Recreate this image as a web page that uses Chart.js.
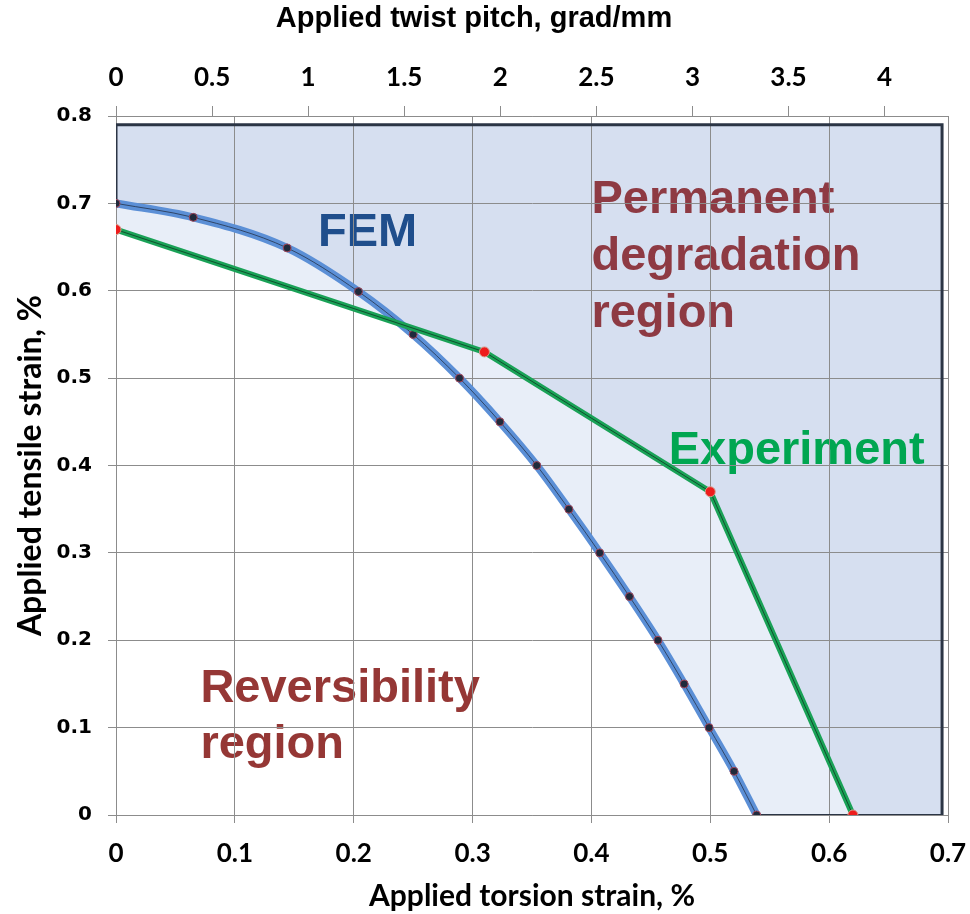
<!DOCTYPE html>
<html>
<head>
<meta charset="utf-8">
<script src="https://cdn.jsdelivr.net/npm/chart.js@4.4.0/dist/chart.umd.min.js"></script>
<style>
  body { margin: 0; background: #fff; }
  #wrap { width: 970px; height: 914px; }
</style>
</head>
<body>
<div id="wrap"><canvas id="strainChart"></canvas></div>
<script>
// FEM limit curve (torsion strain %, tensile strain %)
var femX = [0, 0.065, 0.144, 0.204, 0.250, 0.289, 0.323, 0.354, 0.381, 0.407, 0.432, 0.456, 0.478, 0.499, 0.520, 0.539];
var femY = [0.70, 0.684, 0.649, 0.599, 0.55, 0.50, 0.45, 0.40, 0.35, 0.30, 0.25, 0.20, 0.15, 0.10, 0.05, 0];

// Experiment limit
var expX = [0, 0.31, 0.50, 0.62];
var expY = [0.67, 0.53, 0.37, 0];

// outline of the degradation region
var frameX = [0, 0, 0.695, 0.695];
var frameY = [0.70, 0.79, 0.79, 0];
var edgeX = [0.539, 0.695];
var edgeY = [0, 0];

// region notes
var noteText = ['FEM', 'Permanent', 'degradation', 'region', 'Experiment', 'Reversibility', 'region'];
var noteKind = ['fem', 'perm', 'perm', 'perm', 'exp', 'rev', 'rev'];
var noteX = [0.170, 0.400, 0.400, 0.400, 0.465, 0.071, 0.071];
var noteY = [0.651, 0.689, 0.624, 0.5585, 0.4017, 0.129, 0.065];

function pts(xs, ys) {
  return xs.map(function (x, i) { return {x: x, y: ys[i]}; });
}

var dark = '#d6dff0';
var light = '#e8eef8';
var none = 'rgba(0,0,0,0)';
var gridCol = '#8c8c8c';

var noteColors = {fem: '#1f4e8c', perm: '#8e3a43', exp: '#00a651', rev: '#953735'};

var regionNotes = {
  id: 'regionNotes',
  beforeDraw: function (chart) {
    var ctx = chart.ctx, xs = chart.scales.x, ys = chart.scales.y;
    ctx.save();
    ctx.font = 'bold 47px "Liberation Sans", Arial, sans-serif';
    ctx.textAlign = 'left';
    ctx.textBaseline = 'alphabetic';
    for (var i = 0; i < noteText.length; i++) {
      ctx.fillStyle = noteColors[noteKind[i]];
      ctx.fillText(noteText[i], xs.getPixelForValue(noteX[i]), ys.getPixelForValue(noteY[i]));
    }
    ctx.restore();
  }
};

var ctx = document.getElementById('strainChart').getContext('2d');
var strainChart = new Chart(ctx, {
  type: 'line',
  data: {
    datasets: [
      { // 0 frame, dark fill
        data: pts(frameX, frameY), borderColor: '#2b3545', borderWidth: 3,
        backgroundColor: dark, fill: 'origin', pointRadius: 0, order: 10
      },
      { // 1 below experiment, light
        data: pts(expX, expY), borderColor: none, borderWidth: 1,
        backgroundColor: light, fill: 'origin', pointRadius: 0, order: 9
      },
      { // 2 below FEM, white
        data: pts(femX, femY), cubicInterpolationMode: 'monotone', borderColor: none, borderWidth: 1,
        backgroundColor: '#ffffff', fill: 'origin', pointRadius: 0, order: 8
      },
      { // 3 between FEM and experiment
        data: pts(femX, femY), cubicInterpolationMode: 'monotone', borderColor: none, borderWidth: 1,
        backgroundColor: light, fill: 1, pointRadius: 0, order: 7
      },
      { // 4 bottom edge of frame
        data: pts(edgeX, edgeY), borderColor: '#2b3545', borderWidth: 2,
        fill: false, pointRadius: 0, order: 6
      },
      { // 5 FEM thick
        label: 'FEM', data: pts(femX, femY), cubicInterpolationMode: 'monotone',
        borderColor: '#5b8fd6', borderWidth: 8, fill: false, pointRadius: 0, order: 3
      },
      { // 6 FEM thin + points
        data: pts(femX, femY), cubicInterpolationMode: 'monotone',
        borderColor: '#24324a', borderWidth: 0.8, fill: false,
        pointRadius: 4, pointBackgroundColor: '#1f2a3c', pointBorderColor: '#a3475a', pointBorderWidth: 1, order: 2
      },
      { // 7 Experiment thick
        label: 'Experiment', data: pts(expX, expY),
        borderColor: '#1aa257', borderWidth: 6, fill: false, pointRadius: 0, order: 1
      },
      { // 8 Experiment thin + points
        data: pts(expX, expY), borderColor: '#0d3a22', borderWidth: 0.8, fill: false,
        pointRadius: 5, pointBackgroundColor: '#ee1c1c', pointBorderColor: '#d89a8a', pointBorderWidth: 1, order: 0
      }
    ]
  },
  options: {
    responsive: true,
    maintainAspectRatio: false,
    animation: false,
    layout: { padding: { right: 22 } },
    plugins: {
      legend: { display: false },
      tooltip: { enabled: false },
      filler: { drawTime: 'beforeDraw' },
      title: {
        display: true,
        text: 'Applied twist pitch, grad/mm',
        color: '#000',
        font: { family: '"Liberation Sans", Arial, sans-serif', weight: 'bold', size: 29 },
        padding: { top: 2, bottom: 0 }
      }
    },
    scales: {
      x: {
        type: 'linear', position: 'bottom', min: 0, max: 0.7,
        ticks: { stepSize: 0.1, color: '#000', padding: 15, font: { family: 'Lato', weight: 'bold', size: 26 } },
        grid: { color: gridCol, tickLength: 8 },
        border: { color: gridCol },
        title: {
          display: true, text: 'Applied torsion strain, %', color: '#000',
          font: { family: 'Lato', weight: 'bold', size: 30 }, padding: { top: 0, bottom: 0 }
        },
        afterFit: function (s) { s.height = 99; s.paddingRight = 0; s.paddingLeft = 0; }
      },
      x2: {
        type: 'linear', position: 'top', min: 0, max: 4.33,
        ticks: {
          stepSize: 0.5, includeBounds: false, color: '#000', padding: 13,
          font: { family: 'Lato', weight: 'bold', size: 26 },
          callback: function (v) { return String(Math.round(v * 10) / 10); }
        },
        grid: { drawOnChartArea: false, color: gridCol, tickLength: 10 },
        border: { color: gridCol },
        afterFit: function (s) {
          var t = s.chart.titleBlock ? s.chart.titleBlock.height : 37;
          s.height = 116 - t;
          s.paddingRight = 0; s.paddingLeft = 0;
        }
      },
      y: {
        type: 'linear', min: 0, max: 0.8,
        ticks: { stepSize: 0.1, color: '#000', padding: 16, font: { family: 'DejaVu Sans', weight: 'bold', size: 20 } },
        grid: { color: gridCol, tickLength: 8 },
        border: { color: gridCol },
        title: {
          display: true, text: 'Applied tensile strain, %', color: '#000',
          font: { family: 'Lato', weight: 'bold', size: 32 }, padding: { top: 11, bottom: 0 }
        },
        afterFit: function (s) { s.width = 116; }
      }
    }
  },
  plugins: [regionNotes]
});
</script>
</body>
</html>
